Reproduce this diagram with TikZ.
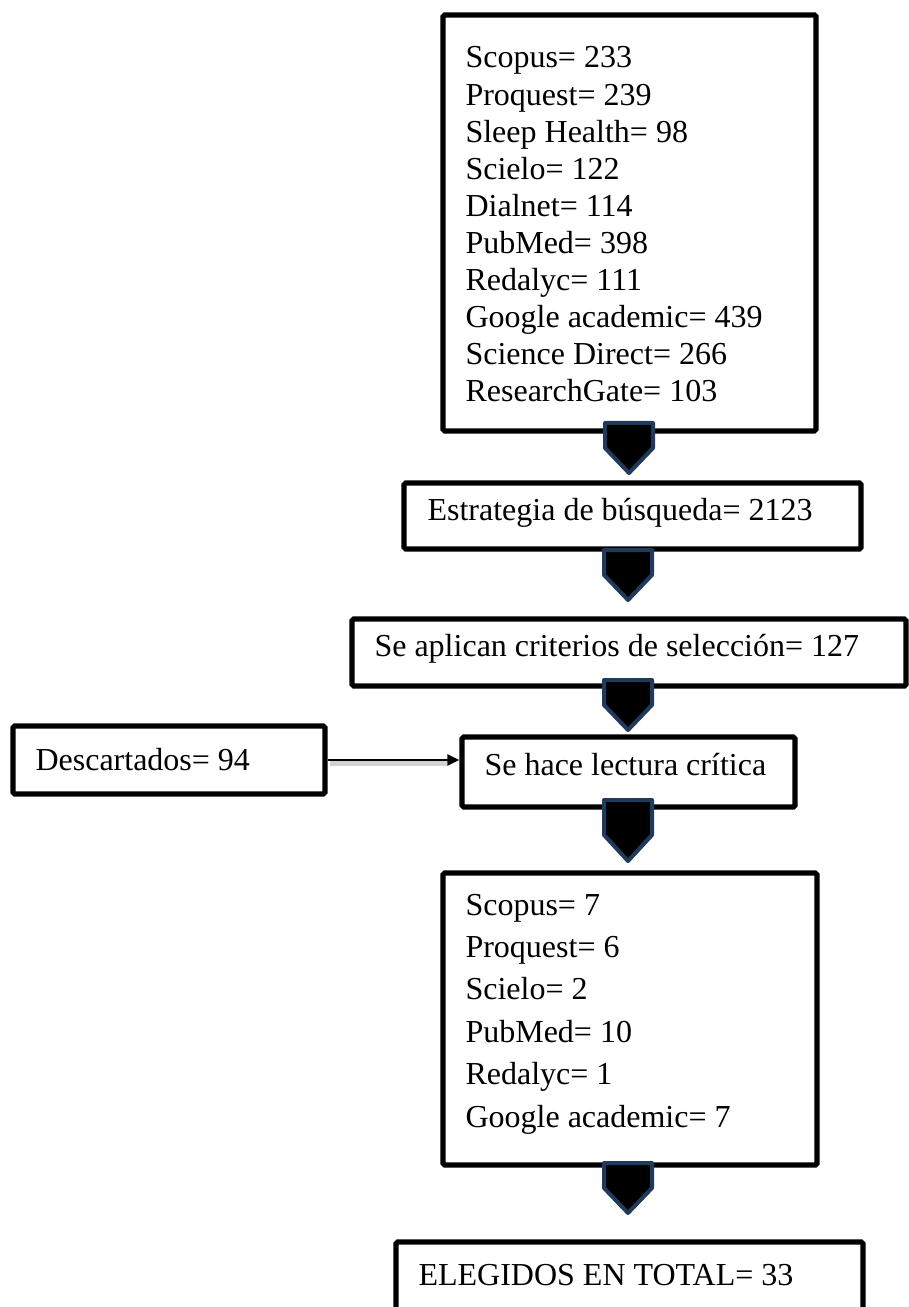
\documentclass[tikz,border=0pt]{standalone}
\usepackage{fontspec}
\setmainfont{Liberation Serif}
\usetikzlibrary{fit,arrows.meta}
\definecolor{navy}{HTML}{1F3A5A}
\tikzset{
  box/.style={draw=black, line width=1.9pt, inner sep=0pt, rectangle, rounded corners=0.6pt},
  txt/.style={anchor=base west, inner sep=0pt, font=\fontsize{12}{14}\selectfont},
  barrow/.style={fill=black, draw=navy, line width=1.5pt, line join=round},
  conn/.style={draw=black, line width=1.1pt, -{Triangle[length=4.5pt,width=4pt]}},
  connshadow/.style={draw=black!25, line width=2pt, opacity=0.7},
  blockarrow/.pic={\path[barrow] (-24,0) -- (24,0) -- (24,25) -- (0,50) -- (-24,25) -- cycle;},
  longarrow/.pic={\path[barrow] (-24,0) -- (24,0) -- (24,35) -- (0,61) -- (-24,35) -- cycle;}
}
\begin{document}
\begin{tikzpicture}[x=0.375pt,y=-0.375pt]
\useasboundingbox (0,0) rectangle (908,1307);
% boxes
\node[box, fit={(443,15)(816,431)}] (b1) {};
\node[box, fit={(404,483)(861,549)}] (b2) {};
\node[box, fit={(352,619)(906,686)}] (b3) {};
\node[box, fit={(13,726)(325,794)}] (desc) {};
\node[box, fit={(462,737)(795,807)}] (b4) {};
\node[box, fit={(443,873)(817,1165)}] (b5) {};
\node[box, fit={(396,1242)(863,1320)}] (b6) {};
% texts box 1
\foreach \t [count=\i from 0] in {Scopus= 233, Proquest= 239, Sleep Health= 98, Scielo= 122, Dialnet= 114, PubMed= 398, Redalyc= 111, Google academic= 439, Science Direct= 266, ResearchGate= 103}
  \node[txt] (l1-\i) at (465,68+37.1*\i) {\t};
\node[txt] (t2) at (427,520) {Estrategia de búsqueda= 2123};
\node[txt] (t3) at (374,656) {Se aplican criterios de selección= 127};
\node[txt] (td) at (35,770) {Descartados= 94};
\node[txt] (t4) at (484,775) {Se hace lectura crítica};
\foreach \t [count=\i from 0] in {Scopus= 7, Proquest= 6, Scielo= 2, PubMed= 10, Redalyc= 1, Google academic= 7}
  \node[txt] (l5-\i) at (465,915+42.4*\i) {\t};
\node[txt] (t6) at (418,1285) {ELEGIDOS EN TOTAL= 33};
% connector
\draw[connshadow] ([shift={(2,3)}]desc.east) -- ([shift={(-12,3)}]desc.east -| b4.west);
\draw[conn] (desc.east) -- (desc.east -| b4.west);
% block arrows
\pic at (629,423) {blockarrow};
\pic at (628,550) {blockarrow};
\pic at (628,680) {blockarrow};
\pic at (628,800) {longarrow};
\pic at (628,1163) {blockarrow};
\end{tikzpicture}
\end{document}
